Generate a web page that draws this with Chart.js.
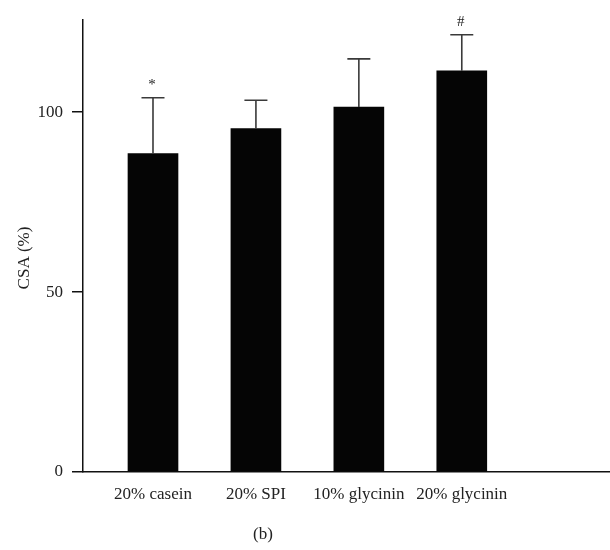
<!DOCTYPE html>
<html>
<head>
<meta charset="utf-8">
<script src="https://cdn.jsdelivr.net/npm/chart.js@4/dist/chart.umd.min.js"></script>
<style>
  html, body { margin: 0; padding: 0; background: #fff; }
  #wrap { width: 610px; height: 550px; }
</style>
</head>
<body>
<div id="wrap"><canvas id="chart"></canvas></div>
<script>
// values
const groups = ["20% casein", "20% SPI", "10% glycinin", "20% glycinin"];
const csaMean = [88.5, 95.4, 101.4, 111.5];
const csaSD = [15.5, 7.9, 13.4, 10.0];
const sigMarks = ["*", "", "", "#"];
const yTicks = [0, 50, 100];
const yTitle = "CSA (%)";
const panelLabel = "(b)";

const serif = "'Liberation Serif', 'Times New Roman', serif";

// error bars, significance marks, axis title and panel label
const extrasPlugin = {
  id: "extras",
  afterDatasetsDraw(chart) {
    const ctx = chart.ctx;
    const xs = chart.scales.x;
    const ys = chart.scales.y;
    ctx.save();
    ctx.strokeStyle = "#3a3a3a";
    ctx.lineWidth = 1.6;
    csaMean.forEach((m, i) => {
      const x = xs.getPixelForValue(i + 1);
      const yBar = ys.getPixelForValue(m);
      const yTop = ys.getPixelForValue(m + csaSD[i]);
      ctx.beginPath();
      ctx.moveTo(x, yBar);
      ctx.lineTo(x, yTop);
      ctx.moveTo(x - 11.5, yTop);
      ctx.lineTo(x + 11.5, yTop);
      ctx.stroke();
      if (sigMarks[i]) {
        ctx.fillStyle = "#222";
        ctx.font = "15px " + serif;
        ctx.textAlign = "center";
        ctx.textBaseline = "bottom";
        ctx.fillText(sigMarks[i], x - 1, yTop - 5);
      }
    });
    ctx.fillStyle = "#222";
    ctx.font = "17px " + serif;
    ctx.textAlign = "center";
    ctx.textBaseline = "middle";
    ctx.fillText(panelLabel, 263, 535);

    // rotated y-axis title
    ctx.translate(25, 258);
    ctx.rotate(-Math.PI / 2);
    ctx.fillText(yTitle, 0, 0);
    ctx.restore();
  }
};

new Chart(document.getElementById("chart"), {
  type: "bar",
  data: {
    datasets: [
      {
        data: csaMean.map((v, i) => ({ x: i + 1, y: v })),
        backgroundColor: "#050505",
        borderColor: "#050505",
        borderWidth: 0,
        barThickness: 50,
      },
    ],
  },
  options: {
    responsive: true,
    maintainAspectRatio: false,
    animation: false,
    devicePixelRatio: 1,
    layout: { padding: { top: 20, right: 0, bottom: 0, left: 0 } },
    plugins: {
      legend: { display: false },
      tooltip: { enabled: false },
    },
    scales: {
      x: {
        type: "linear",
        offset: false,
        min: 0.32,
        max: 5.44,
        grid: { display: false, drawTicks: false, offset: false },
        border: { display: true, color: "#111", width: 1.5 },
        afterBuildTicks: (scale) => {
          scale.ticks = groups.map((g, i) => ({ value: i + 1 }));
        },
        afterFit: (scale) => { scale.height = 78; },
        ticks: {
          padding: 12,
          autoSkip: false,
          maxRotation: 0,
          color: "#222",
          font: { family: serif, size: 17 },
          callback: (v) => groups[v - 1] || "",
        },
      },
      y: {
        min: 0,
        max: 125.6,
        grid: { drawOnChartArea: false, drawTicks: true, tickLength: 11, color: "#111", lineWidth: 1.5 },
        border: { display: true, color: "#111", width: 1.5 },
        afterBuildTicks: (scale) => {
          scale.ticks = yTicks.map((v) => ({ value: v }));
        },
        afterFit: (scale) => { scale.width = 83; },
        ticks: {
          padding: 9,
          color: "#222",
          font: { family: serif, size: 17 },
        },
      },
    },
  },
  plugins: [extrasPlugin],
});
</script>
</body>
</html>
